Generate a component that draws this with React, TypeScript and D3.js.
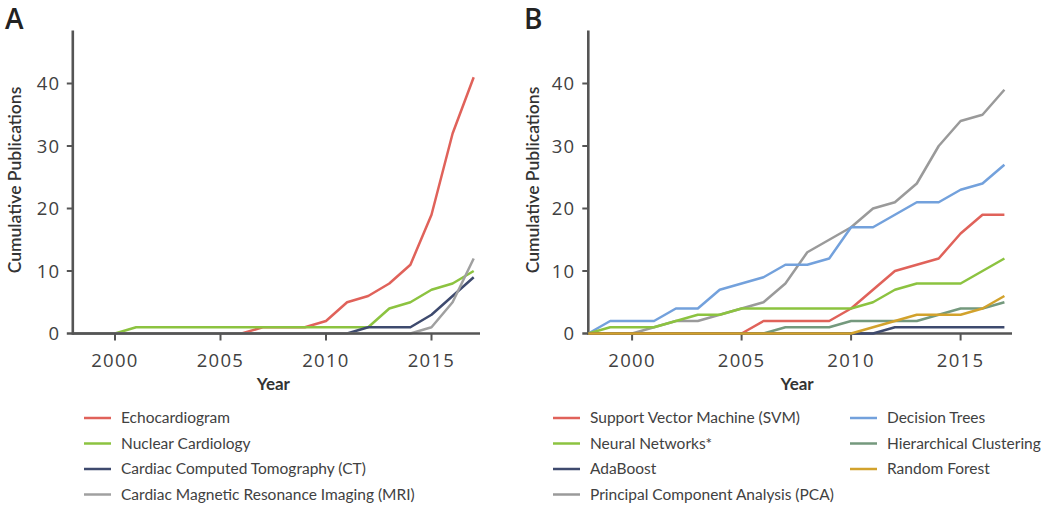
import React from "react";
import * as d3 from "d3";

const years = d3.range(1998, 2018);
const xTicks = [2000, 2005, 2010, 2015];
const yTicks = [0, 10, 20, 30, 40];

// Panel A
const echocardiogram = [0,0,0,0,0,0,0,0,0,1,1,1,2,5,6,8,11,19,32,41];
const nuclearCardiology = [0,0,0,1,1,1,1,1,1,1,1,1,1,1,1,4,5,7,8,10];
const cardiacCT = [0,0,0,0,0,0,0,0,0,0,0,0,0,0,1,1,1,3,6,9];
const cardiacMRI = [0,0,0,0,0,0,0,0,0,0,0,0,0,0,0,0,0,1,5,12];

// Panel B
const svm = [0,0,0,0,0,0,0,0,2,2,2,2,4,7,10,11,12,16,19,19];
const neuralNetworks = [0,1,1,1,2,3,3,4,4,4,4,4,4,5,7,8,8,8,10,12];
const adaBoost = [0,0,0,0,0,0,0,0,0,0,0,0,0,0,1,1,1,1,1,1];
const pca = [0,0,0,1,2,2,3,4,5,8,13,15,17,20,21,24,30,34,35,39];
const decisionTrees = [0,2,2,2,4,4,7,8,9,11,11,12,17,17,19,21,21,23,24,27];
const hierarchicalClustering = [0,0,0,0,0,0,0,0,0,1,1,1,2,2,2,2,3,4,4,5];
const randomForest = [0,0,0,0,0,0,0,0,0,0,0,0,0,1,2,3,3,3,4,6];

const RED = "#e0625a";
const GREEN = "#8cc340";
const NAVY = "#3e4a6e";
const GRAY = "#a0a0a0";
const BLUE = "#73a1dc";
const SAGE = "#74997d";
const GOLD = "#d2a22c";

const seriesA = [
  { name: "Echocardiogram", values: echocardiogram, color: RED },
  { name: "Nuclear Cardiology", values: nuclearCardiology, color: GREEN },
  { name: "Cardiac Computed Tomography (CT)", values: cardiacCT, color: NAVY },
  { name: "Cardiac Magnetic Resonance Imaging (MRI)", values: cardiacMRI, color: GRAY },
];

const seriesB = [
  { name: "Principal Component Analysis (PCA)", values: pca, color: "#9a9a9a" },
  { name: "Decision Trees", values: decisionTrees, color: BLUE },
  { name: "Hierarchical Clustering", values: hierarchicalClustering, color: SAGE },
  { name: "Support Vector Machine (SVM)", values: svm, color: RED },
  { name: "Neural Networks*", values: neuralNetworks, color: GREEN },
  { name: "AdaBoost", values: adaBoost, color: NAVY },
  { name: "Random Forest", values: randomForest, color: GOLD },
];

const legendBCol1 = ["Support Vector Machine (SVM)", "Neural Networks*", "AdaBoost", "Principal Component Analysis (PCA)"];
const legendBCol2 = ["Decision Trees", "Hierarchical Clustering", "Random Forest"];

const AXIS = "#555";
const TEXT = "#414141";
const FONT = "Lato, 'Open Sans', sans-serif";

type Series = { name: string; values: number[]; color: string };

function Panel(props: {
  letter: string;
  letterX: number;
  x0: number; x1: number;
  axisEnd: number;
  titleX: number;
  labelRight: number;
  series: Series[];
  linesOnTop: boolean;
}) {
  const { letter, letterX, x0, x1, axisEnd, titleX, labelRight, series, linesOnTop } = props;
  const x = d3.scaleLinear().domain([1998, 2017]).range([x0, x1]);
  const y = d3.scaleLinear().domain([0, 40]).range([333.5, 83.5]);
  const line = d3.line<number>().x((_, i) => x(years[i])).y((v) => y(v));
  const axisY = y(0);
  const yTop = y(48.5);
  const lines = (
    <g fill="none" strokeWidth={2.5} strokeLinejoin="round">
      {series.map((s) => (
        <path key={s.name} d={line(s.values) || ""} stroke={s.color} />
      ))}
    </g>
  );
  const axes = (
    <g stroke={AXIS} strokeWidth={2.6}>
      <line x1={x0} x2={x0} y1={yTop} y2={axisY + 1.3} />
      <line x1={x0 - 6} x2={axisEnd} y1={axisY} y2={axisY} />
      {yTicks.filter((t) => t > 0).map((t) => (
        <line key={t} x1={x0 - 6} x2={x0} y1={y(t)} y2={y(t)} strokeWidth={2} />
      ))}
      {xTicks.map((t) => (
        <line key={t} x1={x(t)} x2={x(t)} y1={axisY} y2={axisY + 7} strokeWidth={2} />
      ))}
    </g>
  );
  return (
    <g>
      <text x={letterX} y={29} fontSize={28} fontWeight={600} fill="#222" fontFamily="'Open Sans', sans-serif">{letter}</text>
      {linesOnTop ? axes : lines}
      {linesOnTop ? lines : axes}
      {yTicks.map((t) => (
        <text key={t} x={labelRight} y={y(t)} dy="0.36em" textAnchor="end" fontSize={18.5} fill={TEXT} fontFamily="'Open Sans', sans-serif" letterSpacing={1}>
          {t}
        </text>
      ))}
      {xTicks.map((t) => (
        <text key={t} x={x(t)} y={367} textAnchor="middle" fontSize={18.5} fill={TEXT} fontFamily="'Open Sans', sans-serif" letterSpacing={1.3}>
          {t}
        </text>
      ))}
      <text x={(x0 - 6 + axisEnd) / 2} y={390} textAnchor="middle" fontSize={17} fontWeight={700} fill="#333" fontFamily={FONT}>Year</text>
      <text transform={`translate(${titleX},${180}) rotate(-90)`} textAnchor="middle" dy="0.35em" fontSize={17.5} fontWeight={600} fill="#333" fontFamily={FONT}>
        Cumulative Publications
      </text>
    </g>
  );
}

function LegendItem(props: { x: number; y: number; color: string; label: string }) {
  const { x, y, color, label } = props;
  return (
    <g>
      <line x1={x} x2={x + 27} y1={y} y2={y} stroke={color} strokeWidth={2.5} />
      <text x={x + 37} y={y} dy="0.35em" fontSize={15.5} fill={TEXT} fontFamily={FONT}>{label}</text>
    </g>
  );
}

const rowY = (i: number) => 418 + i * 25.5;
const colorOf = (name: string) => seriesB.find((s) => s.name === name)!.color;

export default function App() {
  return (
    <svg width={1050} height={508} style={{ position: "absolute", left: 0, top: 0, background: "#fff" }}>
      <rect width={1050} height={508} fill="#fff" />
      <Panel letter="A" letterX={5} x0={72.8} x1={473.7} axisEnd={480} titleX={15} labelRight={60} series={seriesA} linesOnTop={false} />
      <Panel letter="B" letterX={524} x0={588.3} x1={1004.4} axisEnd={1012} titleX={533} labelRight={575} series={seriesB} linesOnTop={true} />
      {seriesA.map((s, i) => (
        <LegendItem key={s.name} x={84} y={rowY(i)} color={s.color} label={s.name} />
      ))}
      {legendBCol1.map((n, i) => (
        <LegendItem key={n} x={553} y={rowY(i)} color={colorOf(n)} label={n} />
      ))}
      {legendBCol2.map((n, i) => (
        <LegendItem key={n} x={850} y={rowY(i)} color={colorOf(n)} label={n} />
      ))}
    </svg>
  );
}
